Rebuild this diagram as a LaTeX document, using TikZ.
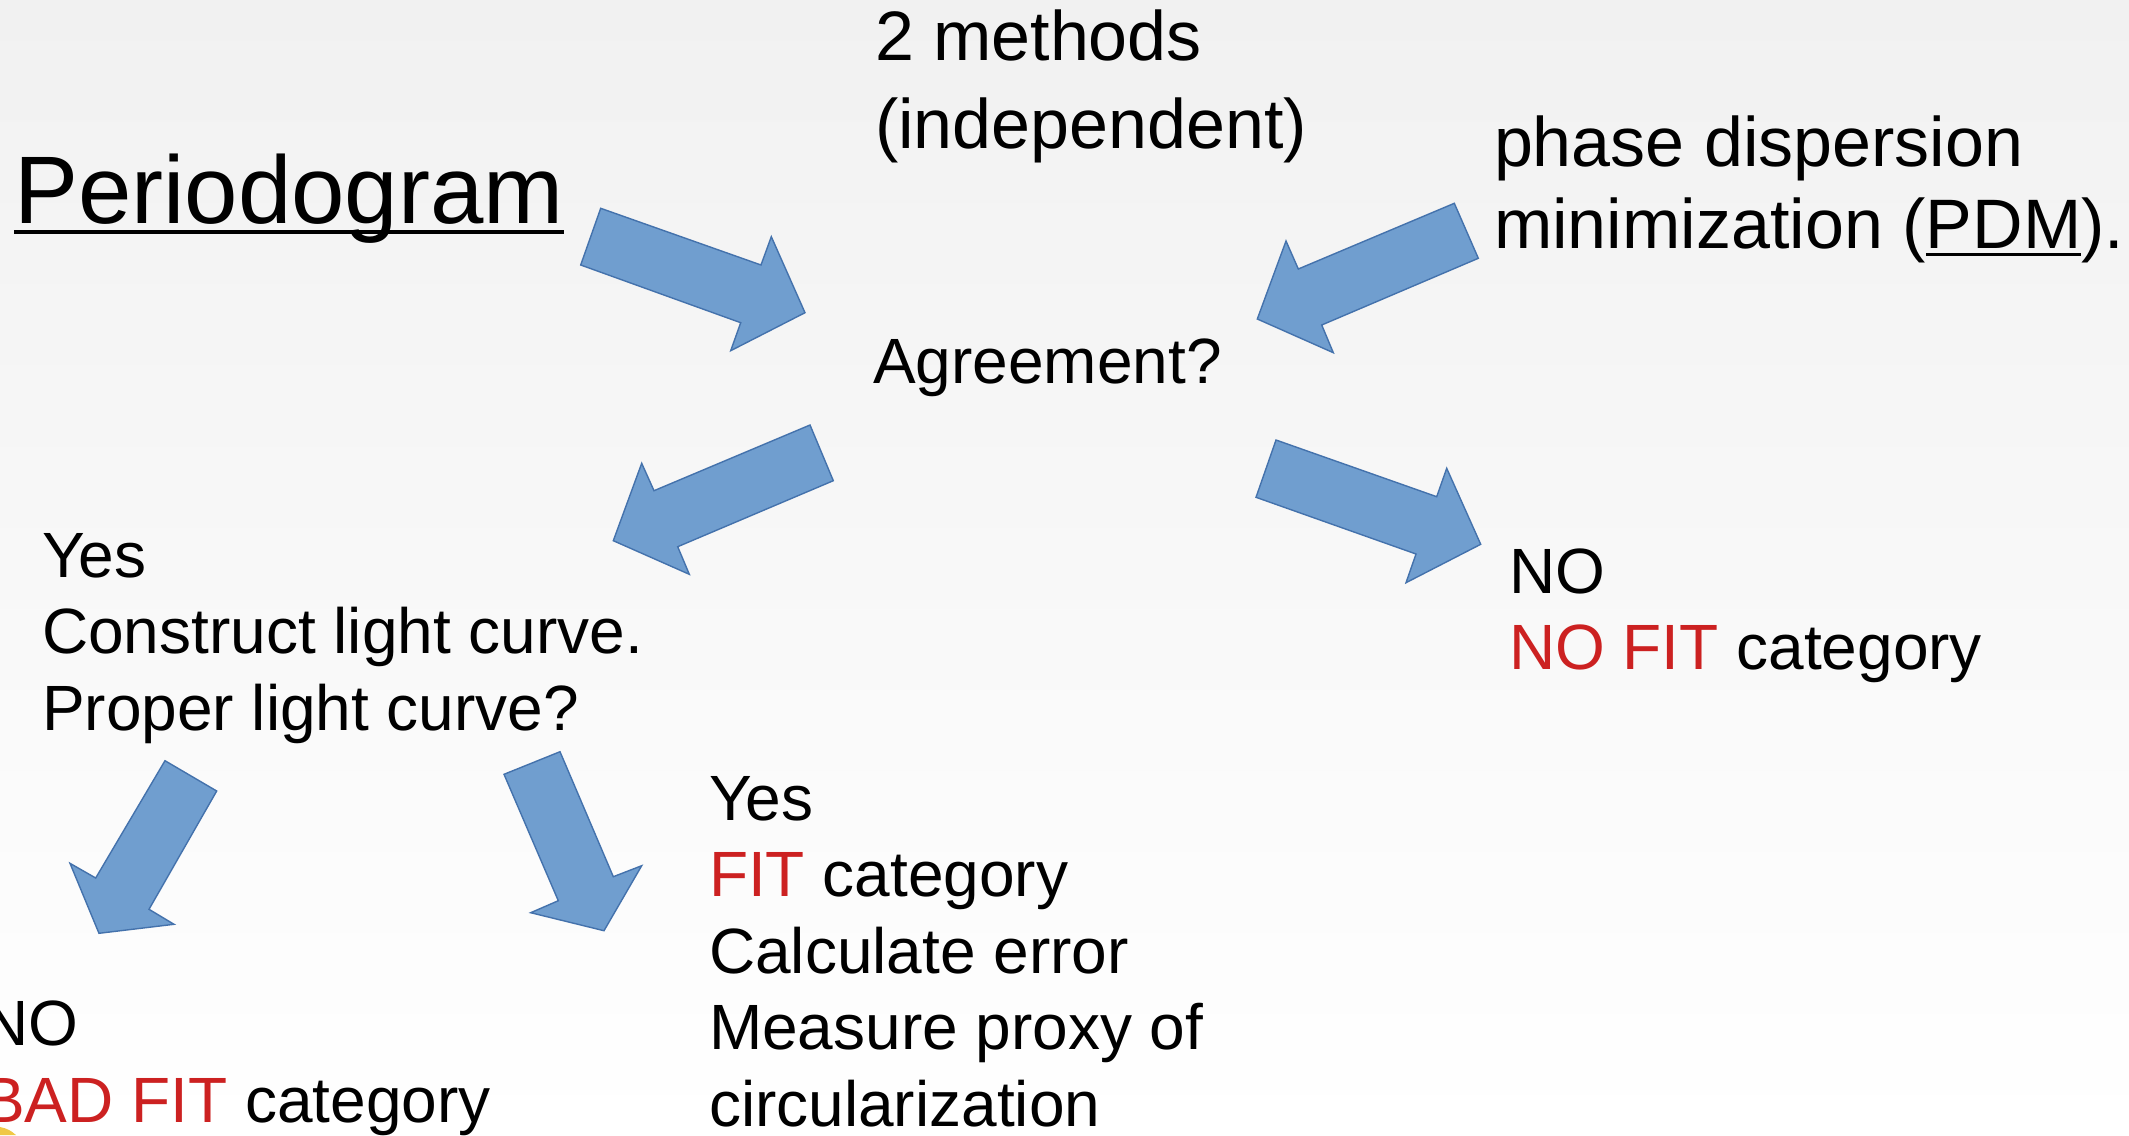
\documentclass[tikz,border=0pt]{standalone}
\usepackage{fontspec}
\setmainfont{Liberation Sans}
\definecolor{bgtop}{RGB}{241,241,241}
\definecolor{bgbot}{RGB}{255,255,255}
\definecolor{arrowfill}{RGB}{112,158,207}
\definecolor{arrowline}{RGB}{68,114,172}
\definecolor{fitred}{RGB}{204,33,33}
\definecolor{sunyellow}{RGB}{240,200,70}
\newcommand\myuline[3]{\leavevmode\sbox0{#3}\rlap{\usebox0}\rule[#1]{\wd0}{#2}}
\tikzset{
  txt/.style={anchor=base west, inner sep=0pt, outer sep=0pt, font=\fontsize{32pt}{38pt}\selectfont},
  bigtxt/.style={txt, font=\fontsize{35pt}{41pt}\selectfont},
  titletxt/.style={txt, font=\fontsize{48pt}{56pt}\selectfont},
  blockarrow/.style={fill=arrowfill, draw=arrowline, line width=0.7pt, line join=miter}
}
\begin{document}
\begin{tikzpicture}[x=0.5pt, y=-0.5pt]
\useasboundingbox (0,0) rectangle (2129,1135);
\shade[top color=bgtop, bottom color=bgbot] (0,0) rectangle (2129,1135);

% texts
\node[bigtxt] (m1) at (875,60) {2 methods};
\node[bigtxt] (m2) at (875,148) {(independent)};
\node[titletxt] (per) at (14,223) {\myuline{-5.5pt}{2.2pt}{Periodogram}};
\node[bigtxt] (pdm1) at (1494,166) {phase dispersion};
\node[bigtxt] (pdm2) at (1494,248) {minimization (\myuline{-3.8pt}{1.4pt}{PDM}).};
\node[txt] (agr) at (873,383) {Agreement?};
\node[txt] (y1) at (42,577) {Yes};
\node[txt] (y2) at (42,653.6) {Construct light curve.};
\node[txt] (y3) at (42,730.2) {Proper light curve?};
\node[txt] (n1) at (1509,593) {NO};
\node[txt] (n2) at (1509,669.5) {{\color{fitred}NO FIT} category};
\node[txt] (f1) at (709,820) {Yes};
\node[txt] (f2) at (709,896.6) {{\color{fitred}FIT} category};
\node[txt] (f3) at (709,973.2) {Calculate error};
\node[txt] (f4) at (709,1049.8) {Measure proxy of};
\node[txt] (f5) at (709,1126.4) {circularization};
\node[txt] (b1) at (-18,1045.5) {NO};
\node[txt] (b2) at (-18,1122) {{\color{fitred}BAD FIT} category};

% block arrows
\draw[blockarrow] (600.7,208.3) -- (761,265) -- (771.3,236.7) -- (805,312.7) -- (730.7,350.7) -- (740.7,322.7) -- (580.7,265) -- cycle;
\draw[blockarrow] (1454.3,203.3) -- (1478.3,258.3) -- (1321.7,325) -- (1333.3,352.7) -- (1257.3,319) -- (1286,241) -- (1298.3,269) -- cycle;
\draw[blockarrow] (810,425) -- (833.3,480.7) -- (677.7,546.7) -- (689.3,574.3) -- (613.3,540.7) -- (641.7,463.3) -- (654,490.7) -- cycle;
\draw[blockarrow] (1276,440) -- (1436.7,496.7) -- (1446.7,468.3) -- (1480.7,544.3) -- (1406,582.7) -- (1416,554) -- (1256,497.3) -- cycle;
\draw[blockarrow] (165,760.7) -- (216.7,791) -- (149,909.3) -- (174,924.3) -- (99,933.3) -- (70,863.3) -- (95.7,878) -- cycle;
\draw[blockarrow] (504,774.3) -- (560,751.7) -- (613.3,876.7) -- (641.7,865.7) -- (604,930.7) -- (530.7,912.7) -- (558.3,900.7) -- cycle;

% small yellow shape at the corner
\fill[sunyellow] (0,1135) -- (0,1127) to[bend left=15] (16,1135) -- cycle;
\end{tikzpicture}
\end{document}
